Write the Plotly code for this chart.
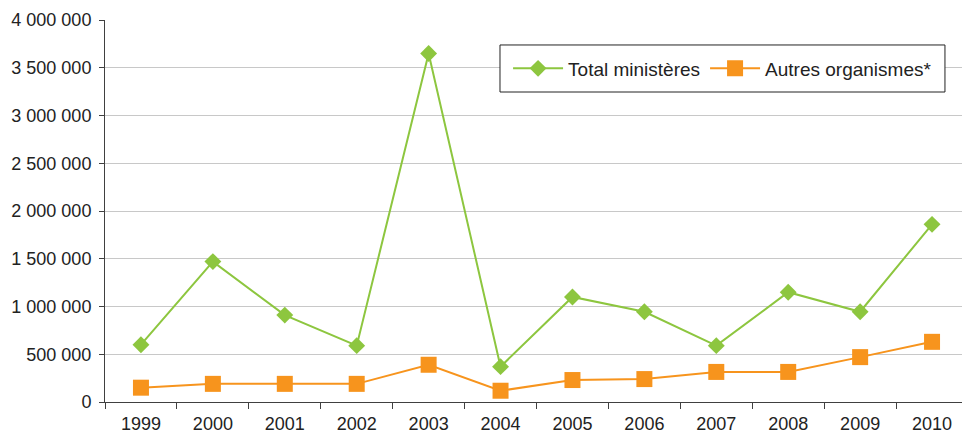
import plotly.graph_objects as go

years = ["1999", "2000", "2001", "2002", "2003", "2004", "2005", "2006", "2007", "2008", "2009", "2010"]
total_ministeres = [600000, 1470000, 910000, 590000, 3650000, 370000, 1100000, 945000, 590000, 1150000, 945000, 1860000]
autres_organismes = [150000, 190000, 190000, 190000, 390000, 118000, 230000, 240000, 315000, 315000, 470000, 630000]

GREEN = "#8dc63f"
ORANGE = "#f7941d"

fig = go.Figure()
fig.add_trace(go.Scatter(
    x=years, y=total_ministeres, name="Total ministères", mode="lines+markers",
    line=dict(color=GREEN, width=2),
    marker=dict(symbol="diamond", size=13, color=GREEN),
))
fig.add_trace(go.Scatter(
    x=years, y=autres_organismes, name="Autres organismes*", mode="lines+markers",
    line=dict(color=ORANGE, width=2),
    marker=dict(symbol="square", size=16, color=ORANGE),
))

# legend frame
fig.add_shape(type="rect", xref="paper", yref="paper",
              x0=0.4577, x1=0.9733, y0=0.8115, y1=0.9346,
              line=dict(color="#222222", width=1), fillcolor="white", layer="above")

fig.update_layout(
    width=962, height=427,
    margin=dict(l=97, r=2, t=12, b=33),
    paper_bgcolor="white", plot_bgcolor="white",
    separators=", ",
    font=dict(family="Liberation Sans, Arial, sans-serif", size=18, color="#222222"),
    showlegend=True,
    legend=dict(
        orientation="h", x=0.7156, xanchor="center", y=0.873, yanchor="middle",
        borderwidth=0, bgcolor="rgba(0,0,0,0)",
        font=dict(size=19), itemwidth=50,
    ),
)
fig.update_xaxes(
    type="category", range=[-0.5, 11.5],
    showline=True, linecolor="#404040", linewidth=1,
    ticks="outside", tickson="boundaries", ticklen=6, tickcolor="#404040",
    ticklabelstandoff=5,
    showgrid=False,
)
fig.update_yaxes(
    range=[0, 4000000], dtick=500000, tickformat=",d",
    showline=True, linecolor="#404040", linewidth=1,
    ticks="outside", ticklen=5, tickcolor="#404040",
    ticklabelstandoff=4,
    showgrid=True, gridcolor="#c8c8c8", gridwidth=1,
    zeroline=False,
)

fig.write_html("out.html")
